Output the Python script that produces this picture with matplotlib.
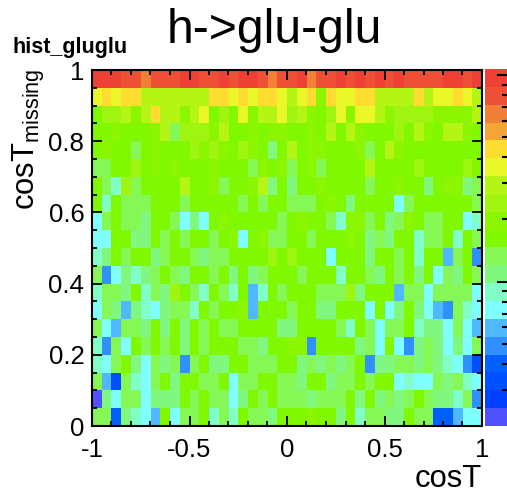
"""ROOT style 2D histogram h->glu-glu, 40 x 20 bins, 20 colour levels on a log z axis"""
import numpy as np
import matplotlib
matplotlib.use("Agg")
import matplotlib.pyplot as plt
from matplotlib.colors import ListedColormap, BoundaryNorm

W, H = 507, 494
plt.rcParams["font.family"] = ["Liberation Sans", "DejaVu Sans"]
plt.rcParams["mathtext.fontset"] = "custom"
plt.rcParams["mathtext.rm"] = "Liberation Sans"
plt.rcParams["axes.unicode_minus"] = False

# colour level of each bin, a = lowest level ... t = highest, first row = top of the plot
ROWS = [
    "tttssrsssttsststtsrs" "strsststststssssttst",
    "opoppnnnnnnnppopoppo" "noplpooppnnnnpnoopon",
    "kmmnlnpnnlnokmkolnno" "mnlkmoloonlmmmmlllln",
    "kklkkklnjmmmlnkklkll" "kklknknlkkkmknlknnlk",
    "klkkjklkkkmlmlkmlkik" "nkllkkkljknlkkkkkkkk",
    "jjkkmklklkkklkkkjlkl" "jkljkkkknkkkkmkkkkmk",
    "kjhmjkkkknkkljkklnik" "ikklkkkkjkklkkikllij",
    "khkjjjkkkjkkkkkjkjkk" "jjjklkikkkkgjkkkkkkj",
    "gjkjjikkjgigklkkkkkj" "klkkjhlljkijlkjjkkgh",
    "ggkkiikjkjkkjklgkljj" "kkjkkklkijikkhjjkhkj",
    "hikjkkijkkjijjkkkkmk" "mkkkgkkkikkjkhkkfjke",
    "jegihijkjikkjkikijkk" "kjkkkhkkjikjkikgjikj",
    "hjjikhjimkjhkjhkfhkj" "kkkjjjmikkkfjjgjjjjg",
    "gjifihgijjhkjkklfkkk" "jkkiikkkgkgikigfejhg",
    "jgfjjikikikjkjjkkkki" "ikkkkjhkjgjjkhiigjgf",
    "hejgkjkjkikjkkkjjikk" "llekkkkijgkgeijigigj",
    "hgjkigjijejkiikkjjjk" "kijijijkeiijjijihgec",
    "jfcjhgjkikkjjkgjjkkj" "jikkijjkjkkghggjijhg",
    "aigjjgiiikjkjjgikjkj" "jjijjjkikijijkjiihje",
    "jjdihgfkgjjkhjhkjjik" "kklkkikhjjiikjjddfgg",
]
# palette from the z axis, lowest level first
PALETTE = ["#5050ff", "#0040ff", "#0050ff", "#0060ff", "#3090ff", "#50b8ff", "#80ffff", "#80ffc8",
           "#80f880", "#85f855", "#80f800", "#8cf600", "#a0f510", "#b5f516", "#eaf82a", "#ffdd30",
           "#f5a535", "#f08035", "#ee5035", "#ee4035"]
XTICKS = [-1, -0.5, 0, 0.5, 1]
XTICK_LABELS = ["-1", "-0.5", "0", "0.5", "1"]
YTICKS = [0, 0.2, 0.4, 0.6, 0.8, 1]
YTICK_LABELS = ["0", "0.2", "0.4", "0.6", "0.8", "1"]
Z_RANGE = (2, 107)
Z_MAJOR = [10, 100]
Z_MINOR = [3, 4, 5, 6, 7, 8, 9, 20, 30, 40, 50, 60, 70, 80, 90]

levels = np.array([[ord(c) - ord("a") for c in r] for r in ROWS])[::-1]
nlev = len(PALETTE)
cmap = ListedColormap(PALETTE)
norm = BoundaryNorm(np.arange(nlev + 1) - 0.5, nlev)

fig = plt.figure(figsize=(W / 100, H / 100), dpi=100)


def pix_axes(x0, y0, x1, y1):
    return fig.add_axes([x0 / W, 1 - y1 / H, (x1 - x0) / W, (y1 - y0) / H])


ax = pix_axes(92, 70, 482, 426)
xedges = np.linspace(-1, 1, levels.shape[1] + 1)
yedges = np.linspace(0, 1, levels.shape[0] + 1)
ax.pcolormesh(xedges, yedges, levels, cmap=cmap, norm=norm)
ax.set_xlim(-1, 1); ax.set_ylim(0, 1)
ax.set_xticks(XTICKS, XTICK_LABELS)
ax.set_yticks(YTICKS, YTICK_LABELS)
ax.set_xticks(np.arange(-1, 1.001, 0.1), minor=True)
ax.set_yticks(np.arange(0, 1.001, 0.05), minor=True)
ax.tick_params(which="both", direction="in", top=True, right=True, width=1.3, color="k")
ax.tick_params(which="major", length=7)
ax.tick_params(which="minor", length=3.6)
ax.tick_params(axis="x", which="major", labelsize=18.5, pad=8.5)
ax.tick_params(axis="y", which="major", labelsize=18.5, pad=5.5)
for s in ax.spines.values():
    s.set_linewidth(1.5)

# z axis, runs into the edge of the picture
cax = pix_axes(485, 69, 507, 426)
zedges = np.geomspace(Z_RANGE[0], Z_RANGE[1], nlev + 1)
cax.pcolormesh([0, 1], zedges, np.arange(nlev).reshape(-1, 1), cmap=cmap, norm=norm)
cax.set_yscale("log")
cax.set_ylim(*Z_RANGE); cax.set_xlim(0, 1)
cax.set_xticks([])
cax.set_yticks(Z_MAJOR, ["", ""])
cax.set_yticks(Z_MINOR, [""] * len(Z_MINOR), minor=True)
cax.tick_params(which="both", direction="in", left=False, right=True, width=1.5, color="k")
cax.tick_params(which="major", length=7.2)
cax.tick_params(which="minor", length=3.6)
for s in cax.spines.values():
    s.set_visible(False)

fig.text(274.5 / W, 1 - 43 / H, "h->glu-glu", fontsize=34.7, ha="center", va="baseline")
fig.text(13 / W, 1 - 53 / H, "hist_gluglu", fontsize=15.5, fontweight="bold", ha="left", va="baseline")
fig.text(482 / W, 1 - 487 / H, "cosT", fontsize=22.3, ha="right", va="baseline")
fig.text(47 / W, 1 - 68 / H, r"$\mathregular{cosT_{missing}}$", fontsize=22.3, rotation=90,
         ha="right", va="top")

fig.savefig("out.png", dpi=100)
